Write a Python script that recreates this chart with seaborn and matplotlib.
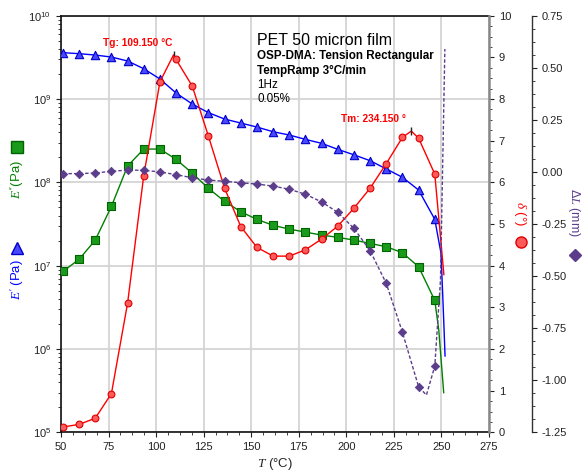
import numpy as np
import pandas as pd
import matplotlib
matplotlib.use("Agg")
import matplotlib.pyplot as plt
import seaborn as sns
from matplotlib.ticker import (MultipleLocator, AutoMinorLocator, LogLocator,
                               NullFormatter, FormatStrFormatter)
from matplotlib.lines import Line2D

# ---------------- data ----------------
T_pts = [51, 59.5, 68, 76.5, 85, 93.5, 102, 110.5, 119, 127.5, 136, 144.5,
         153, 161.5, 170, 178.5, 187, 195.5, 204, 212.5, 221, 229.5, 238, 246.5]

E_storage = [3.60e9, 3.50e9, 3.37e9, 3.19e9, 2.86e9, 2.31e9, 1.74e9, 1.18e9,
             8.71e8, 6.86e8, 5.75e8, 5.15e8, 4.61e8, 4.05e8, 3.70e8, 3.28e8,
             2.94e8, 2.49e8, 2.14e8, 1.82e8, 1.45e8, 1.15e8, 8.09e7, 3.60e7]
E_storage_tail_T = [249.8, 251.2, 251.9]
E_storage_tail = [1.4e7, 2.2e6, 8.2e5]

E_loss = [8.55e6, 1.19e7, 2.03e7, 5.15e7, 1.57e8, 2.51e8, 2.51e8, 1.89e8,
          1.29e8, 8.47e7, 5.92e7, 4.44e7, 3.60e7, 3.05e7, 2.75e7, 2.53e7,
          2.33e7, 2.19e7, 2.03e7, 1.85e7, 1.69e7, 1.43e7, 9.71e6, 3.83e6]
E_loss_tail_T = [248.6, 251.2]
E_loss_tail = [1.69e6, 2.98e5]

tan_delta = [0.13, 0.19, 0.34, 0.93, 3.10, 6.16, 8.41, 8.95, 8.31, 7.11, 5.86,
             4.94, 4.44, 4.23, 4.23, 4.38, 4.64, 4.95, 5.38, 5.86, 6.45, 7.08,
             7.06, 6.20]
tan_peak_T = [109.15, 234.15]
tan_peak = [9.06, 7.23]
tan_tail_T = [251.3]
tan_tail = [3.78]

dL = [-0.008, -0.008, -0.005, 0.003, 0.009, 0.008, 0.000, -0.013, -0.028,
      -0.039, -0.045, -0.052, -0.058, -0.068, -0.083, -0.107, -0.144, -0.194,
      -0.271, -0.378, -0.535, -0.770, -1.031, -0.932]
dL_extra_T = [242.1, 249.5, 251.8]
dL_extra = [-1.071, -0.519, 0.590]

x_ticks = [50, 75, 100, 125, 150, 175, 200, 225, 250, 275]

title_lines = ["PET 50 micron film", "OSP-DMA: Tension Rectangular",
               "TempRamp 3°C/min", "1Hz", "0.05%"]
tg_label = "Tg: 109.150 °C"
tm_label = "Tm: 234.150 °"

# ---------------- style ----------------
sns.set_style("ticks")
plt.rcParams["font.family"] = ["Liberation Sans", "DejaVu Sans"]
plt.rcParams["mathtext.fontset"] = "custom"
plt.rcParams["mathtext.rm"] = "Liberation Sans"
plt.rcParams["mathtext.it"] = "Liberation Serif:italic"
plt.rcParams["mathtext.bf"] = "Liberation Sans:bold"

BLUE, BLUE_F, BLUE_E = "#0000ff", "#4848ff", "#0000c8"
GREEN, GREEN_F, GREEN_E = "#008000", "#1a9a1a", "#006400"
RED, RED_F, RED_E = "#ff0000", "#ff5a5a", "#e00000"
PURPLE = "#5b3d8c"


def line_df(t_main, v_main, t_extra, v_extra):
    df = pd.DataFrame({"T": list(t_main) + list(t_extra),
                       "v": list(v_main) + list(v_extra)})
    return df.sort_values("T")


fig = plt.figure(figsize=(5.82, 4.74), dpi=100)
ax = fig.add_axes([0.1048, 0.0878, 0.7354, 0.8791])
ax.set_yscale("log")

# E' (storage)
sns.lineplot(data=line_df(T_pts, E_storage, E_storage_tail_T, E_storage_tail),
             x="T", y="v", ax=ax, color=BLUE, lw=1.0, sort=False, estimator=None)
sns.scatterplot(x=T_pts, y=E_storage, ax=ax, marker="^", s=36, color=BLUE_F,
                edgecolor=BLUE_E, linewidth=0.8, zorder=3)
# E'' (loss)
sns.lineplot(data=line_df(T_pts, E_loss, E_loss_tail_T, E_loss_tail),
             x="T", y="v", ax=ax, color=GREEN, lw=1.0, sort=False, estimator=None)
sns.scatterplot(x=T_pts, y=E_loss, ax=ax, marker="s", s=26, color=GREEN_F,
                edgecolor=GREEN_E, linewidth=0.8, zorder=3)

ax.set_xlim(50, 275)
ax.set_ylim(1e5, 1e10)
ax.set_xticks(x_ticks)
ax.xaxis.set_minor_locator(AutoMinorLocator(4))
ax.yaxis.set_major_locator(LogLocator(10, numticks=12))
ax.yaxis.set_minor_locator(LogLocator(10, subs=np.arange(2, 10), numticks=12))
ax.yaxis.set_minor_formatter(NullFormatter())
ax.grid(True, which="major", color="#d4d4d4", lw=1.3)
ax.set_axisbelow(True)
ax.set_ylabel("")
ax.set_xlabel("$T$ (°C)", fontsize=9.5, labelpad=3)
ax.tick_params(which="both", direction="out", right=False, top=False,
               labelsize=8, colors="#222222")
ax.tick_params(which="major", length=3.5, width=0.8)
ax.tick_params(which="minor", length=2, width=0.6)
for s in ["left", "bottom", "top"]:
    ax.spines[s].set_color("#111111")
    ax.spines[s].set_linewidth(1.2)
ax.spines["right"].set_visible(False)

# tan delta axis
ax2 = ax.twinx()
sns.lineplot(data=line_df(T_pts, tan_delta, tan_peak_T + tan_tail_T, tan_peak + tan_tail),
             x="T", y="v", ax=ax2, color=RED, lw=1.0, sort=False, estimator=None)
sns.scatterplot(x=T_pts, y=tan_delta, ax=ax2, marker="o", s=24, color=RED_F,
                edgecolor=RED_E, linewidth=0.8, zorder=3)
ax2.plot(tan_peak_T, tan_peak, ls="none", marker="|", ms=6, mew=1.0, color="#222222")
ax2.set_ylim(0, 10)
ax2.yaxis.set_major_locator(MultipleLocator(1))
ax2.yaxis.set_minor_locator(AutoMinorLocator(4))
ax2.set_ylabel("")
ax2.tick_params(which="both", direction="out", labelsize=8, colors="#222222")
ax2.tick_params(which="major", length=3.5, width=0.8)
ax2.tick_params(which="minor", length=2, width=0.6)
for s in ["left", "top", "bottom"]:
    ax2.spines[s].set_visible(False)
ax2.spines["right"].set_color("#8a8a8a")
ax2.spines["right"].set_linewidth(1.8)
ax2.text(72.1, 9.35, tg_label, color=RED, fontsize=7.3, fontweight="bold", va="center")
ax2.text(197.2, 7.51, tm_label, color=RED, fontsize=7.3, fontweight="bold", va="center")

# delta L axis
ax3 = ax.twinx()
ax3.spines["right"].set_position(("axes", 1.1005))
sns.lineplot(data=line_df(T_pts, dL, dL_extra_T, dL_extra),
             x="T", y="v", ax=ax3, color=PURPLE, lw=1.0, ls=(0, (2.5, 1.5)),
             sort=False, estimator=None)
sns.scatterplot(x=T_pts, y=dL, ax=ax3, marker="D", s=18, color=PURPLE,
                edgecolor=PURPLE, linewidth=0.6, zorder=3)
ax3.set_ylim(-1.25, 0.75)
ax3.yaxis.set_major_locator(MultipleLocator(0.25))
ax3.yaxis.set_minor_locator(AutoMinorLocator(4))
ax3.yaxis.set_major_formatter(FormatStrFormatter("%.2f"))
ax3.set_ylabel("")
ax3.tick_params(which="both", direction="out", labelsize=8, colors="#222222")
ax3.tick_params(which="major", length=3.5, width=0.8)
ax3.tick_params(which="minor", length=2, width=0.6)
for s in ["left", "top", "bottom"]:
    ax3.spines[s].set_visible(False)
ax3.spines["right"].set_color("#333333")
ax3.spines["right"].set_linewidth(1.0)

# info text block
ys = [0.940, 0.903, 0.867, 0.834, 0.800]
sizes = [11.5, 8.4, 8.4, 8.4, 8.4]
weights = ["normal", "bold", "bold", "normal", "normal"]
for txt, yy, fs, fw in zip(title_lines, ys, sizes, weights):
    ax.text(0.458, yy, txt, transform=ax.transAxes, fontsize=fs, fontweight=fw,
            va="center", ha="left", color="black")

# axis labels with symbol markers
fig.text(0.030, 0.622, "$E''$(Pa)", rotation=90, color=GREEN, ha="center",
         va="center", fontsize=9.5)
fig.add_artist(Line2D([0.0287], [0.6905], transform=fig.transFigure, marker="s",
                      ms=8, color=GREEN_F, mec=GREEN_E, ls="none"))
fig.text(0.030, 0.411, "$E'$ (Pa)", rotation=90, color=BLUE, ha="center",
         va="center", fontsize=9.5)
fig.add_artist(Line2D([0.0287], [0.477], transform=fig.transFigure, marker="^",
                      ms=8.5, color=BLUE_F, mec=BLUE_E, ls="none"))
fig.text(0.894, 0.550, r"$\delta$ (°)", rotation=270, color=RED, ha="center",
         va="center", fontsize=9.5)
fig.add_artist(Line2D([0.896], [0.490], transform=fig.transFigure, marker="o",
                      ms=8, color=RED_F, mec=RED_E, ls="none"))
fig.text(0.987, 0.552, r"$\Delta L$ (mm)", rotation=270, color=PURPLE, ha="center",
         va="center", fontsize=9.0)
fig.add_artist(Line2D([0.988], [0.462], transform=fig.transFigure, marker="D",
                      ms=6.5, color=PURPLE, mec=PURPLE, ls="none"))

fig.savefig("out.png", dpi=100)
